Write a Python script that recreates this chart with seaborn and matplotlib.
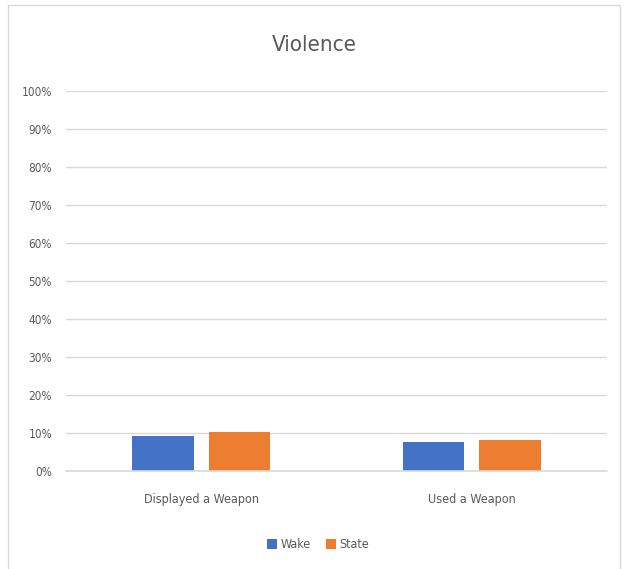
import pandas as pd
import matplotlib.pyplot as plt
import seaborn as sns
from matplotlib.patches import Rectangle

# values (share of students)
categories = ['Displayed a Weapon', 'Used a Weapon']
wake = [0.091, 0.076]
state = [0.102, 0.082]
series = ['Wake', 'State']
colors = ['#4472C4', '#ED7D31']

df = pd.DataFrame({
    'Category': categories * 2,
    'Group': [series[0]] * 2 + [series[1]] * 2,
    'Value': wake + state,
})

sns.set_style('white')
plt.rcParams['font.family'] = ['DejaVu Sans']
plt.rcParams['font.stretch'] = 'condensed'

fig = plt.figure(figsize=(6.28, 5.69), dpi=100)
ax = fig.add_axes([66 / 628, 1 - 471 / 569, 541 / 628, 380 / 569])

sns.barplot(data=df, x='Category', y='Value', hue='Group', palette=colors,
            saturation=1, width=0.567, gap=0.2, ax=ax, zorder=3, legend=True,
            linewidth=0)

ax.set_ylim(0, 1)
ax.set_xlim(-0.5, 1.5)
ax.set_yticks([i / 10 for i in range(11)])
ax.set_yticklabels([f'{i * 10}%' for i in range(11)])
ax.yaxis.grid(True, color='#d9d9d9', linewidth=1, zorder=0)
ax.axhline(0, color='#d9d9d9', linewidth=1.2, zorder=4, clip_on=False)
ax.tick_params(axis='y', length=0, pad=10, labelsize=8.5, labelcolor='#595959')
ax.tick_params(axis='x', length=0, pad=16, labelsize=9, labelcolor='#595959')
for s in ax.spines.values():
    s.set_visible(False)
ax.set_xlabel('')
ax.set_ylabel('')

fig.text(0.5, 1 - 45 / 569, 'Violence', ha='center', va='center',
         fontsize=16, color='#595959')

ax.legend(loc='center', bbox_to_anchor=(318 / 628, 1 - 545 / 569),
          bbox_transform=fig.transFigure, ncol=2, frameon=False,
          fontsize=9, labelcolor='#595959', handlelength=0.8,
          handleheight=0.8, handletextpad=0.3, columnspacing=1.2)

# outer chart border
fig.patches.append(Rectangle((8 / 628, -0.01), 612 / 628, 1 - 5 / 569 + 0.01,
                             transform=fig.transFigure, fill=False,
                             edgecolor='#d9d9d9', linewidth=1))

fig.savefig('out.png', dpi=100)
